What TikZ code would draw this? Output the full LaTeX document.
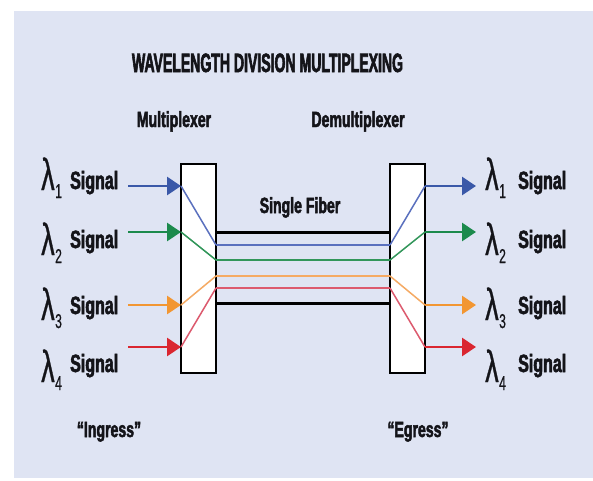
\documentclass[tikz,border=0pt]{standalone}
\usepackage{fontspec}
\usetikzlibrary{arrows.meta}
\newfontfamily\titlef{Liberation Sans}[FakeStretch=0.53,FakeBold=2.2]
\newfontfamily\condf{Liberation Sans}[FakeStretch=0.64,FakeBold=2.2]
\newfontfamily\lamf{Liberation Sans}[FakeStretch=0.6,FakeBold=0.6]
\definecolor{panel}{RGB}{223,228,243}
\definecolor{txt}{RGB}{20,20,25}
\definecolor{cblue}{RGB}{58,88,168}
\definecolor{cgreen}{RGB}{28,138,76}
\definecolor{corange}{RGB}{242,150,50}
\definecolor{cred}{RGB}{218,38,48}
\definecolor{fblue}{RGB}{90,112,190}
\definecolor{fgreen}{RGB}{50,150,90}
\definecolor{forange}{RGB}{245,170,100}
\definecolor{fred}{RGB}{220,90,110}
\begin{document}
\begin{tikzpicture}[x=1pt,y=-1pt,
  lbl/.style={inner sep=0pt,text=txt,font=\condf\bfseries\fontsize{22}{23}\selectfont},
  sig/.style={inner sep=0pt,anchor=base west,text=txt,font=\condf\bfseries\fontsize{25}{26}\selectfont},
  lam/.style={inner sep=0pt,anchor=base west,text=txt,font=\lamf\fontsize{45}{46}\selectfont},
  sub/.style={inner sep=0pt,anchor=base west,text=txt,font=\lamf\fontsize{20}{21}\selectfont},
  boxn/.style={draw=black,line width=2.5pt,fill=white,minimum width=35pt,minimum height=209pt,inner sep=0pt},
  arr/.style={line width=2.8pt,-{Triangle[length=14pt,width=18pt]}},
  inner/.style={line width=1.5pt},
  fib/.style={line width=2pt},
  blk/.style={line width=3pt,black}]
\useasboundingbox (0,0) rectangle (593,480);
\fill[white] (0,0) rectangle (593,480);
\fill[panel] (14,11) rectangle (593,478);
% title and headings
\node[lbl,anchor=base,font=\titlef\bfseries\fontsize{26.5}{28}\selectfont] (title) at (267.5,72) {WAVELENGTH DIVISION MULTIPLEXING};
\node[lbl,anchor=base] (muxl) at (174,127) {Multiplexer};
\node[lbl,anchor=base] (demuxl) at (358,127) {Demultiplexer};
\node[lbl,anchor=base] (fiberl) at (300,213) {Single Fiber};
\node[lbl,anchor=base] (ing) at (109,437) {“Ingress”};
\node[lbl,anchor=base] (egr) at (418,437) {“Egress”};
% boxes
\node[boxn] (mux) at (198.5,268.5) {};
\node[boxn] (demux) at (407.5,268.5) {};
% coordinates
\foreach \n/\y in {1/186,2/232,3/305,4/347}{
  \coordinate (ls\n) at (128,\y);
  \coordinate (li\n) at (181,\y);
  \coordinate (ro\n) at (425,\y);
  \coordinate (re\n) at (476,\y);
}
\foreach \n/\y in {1/245,2/260,3/276,4/288}{
  \coordinate (fl\n) at (216,\y);
  \coordinate (fr\n) at (390,\y);
}
\coordinate (bt1) at (216,232); \coordinate (bt2) at (390,232);
\coordinate (bb1) at (216,303); \coordinate (bb2) at (390,303);
% fiber
\draw[blk] (bt1) -- (bt2);
\draw[blk] (bb1) -- (bb2);
\draw[fib,fblue] (fl1) -- (fr1);
\draw[fib,fgreen] (fl2) -- (fr2);
\draw[fib,forange] (fl3) -- (fr3);
\draw[fib,fred] (fl4) -- (fr4);
% inside boxes
\draw[inner,fblue] (li1) -- (fl1);
\draw[inner,fgreen] (li2) -- (fl2);
\draw[inner,forange] (li3) -- (fl3);
\draw[inner,fred] (li4) -- (fl4);
\draw[inner,fblue] (fr1) -- (ro1);
\draw[inner,fgreen] (fr2) -- (ro2);
\draw[inner,forange] (fr3) -- (ro3);
\draw[inner,fred] (fr4) -- (ro4);
% arrows
\draw[arr,cblue] (ls1) -- (li1);
\draw[arr,cgreen] (ls2) -- (li2);
\draw[arr,corange] (ls3) -- (li3);
\draw[arr,cred] (ls4) -- (li4);
\draw[arr,cblue] (ro1) -- (re1);
\draw[arr,cgreen] (ro2) -- (re2);
\draw[arr,corange] (ro3) -- (re3);
\draw[arr,cred] (ro4) -- (re4);
% labels
\foreach \n/\ly/\sy in {1/190/189,2/255/248,3/320/314,4/382/372}{
  \node[lam] (ll\n) at (41,\ly) {λ};
  \node[sub] (lsub\n) at (55,\ly+8) {\n};
  \node[sig] (lsig\n) at (70,\sy) {Signal};
  \node[lam] (rl\n) at (485,\ly) {λ};
  \node[sub] (rsub\n) at (499,\ly+8) {\n};
  \node[sig] (rsig\n) at (518,\sy) {Signal};
}
\end{tikzpicture}
\end{document}
